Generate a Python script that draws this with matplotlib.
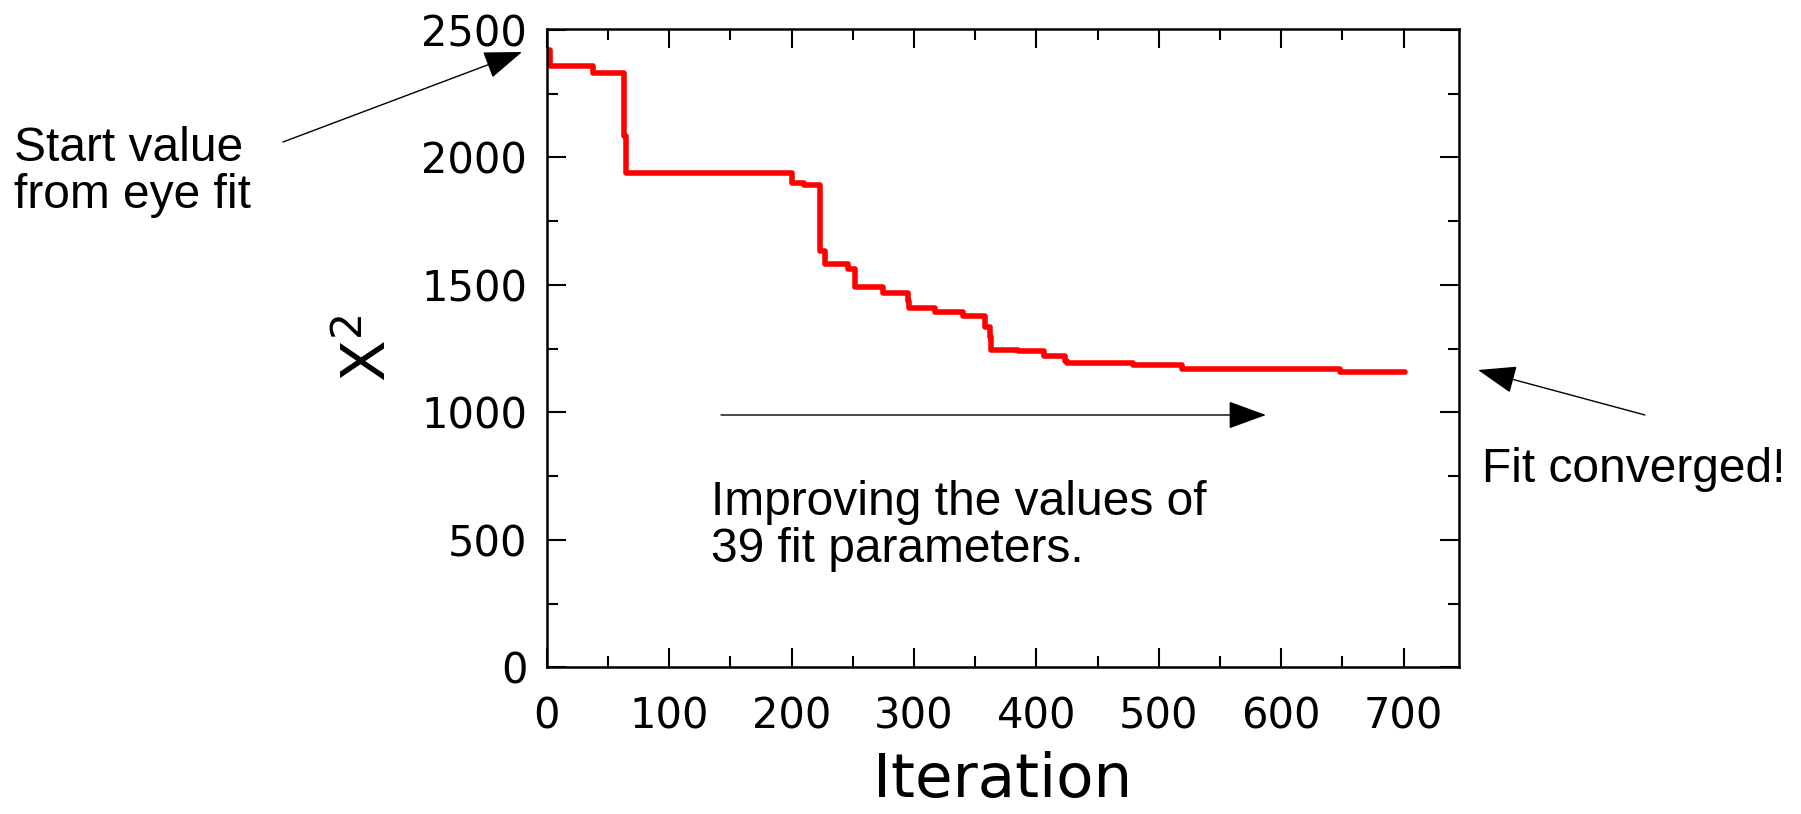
import matplotlib
matplotlib.use('Agg')
import matplotlib.pyplot as plt
from matplotlib.ticker import MultipleLocator

# chi^2 value after each accepted step (steps-post)
iteration = [0, 3, 38, 63, 65, 200, 210, 223, 227, 246, 252, 275, 295, 296, 317,
             340, 358, 362, 363, 385, 406, 423, 425, 479, 519, 648, 701]
chi2 = [2420, 2360, 2330, 2083, 1940, 1898, 1892, 1633, 1581, 1561, 1490, 1470, 1437, 1411, 1394,
        1379, 1333, 1294, 1246, 1242, 1222, 1203, 1192, 1187, 1170, 1157, 1157]

W, H = 1801, 814
tick_font = ['DejaVu Sans']
note_font = ['Liberation Sans', 'DejaVu Sans']
plt.rcParams['mathtext.default'] = 'regular'

fig = plt.figure(figsize=(W / 100, H / 100), dpi=100)
ax = fig.add_axes([546.7 / W, 1 - 667.3 / H, (1458.7 - 546.7) / W, (667.3 - 28.7) / H])

ax.plot(iteration, chi2, drawstyle='steps-post', color='red', lw=4,
        solid_capstyle='round', solid_joinstyle='round')

ax.set_xlim(0, 745)
ax.set_ylim(0, 2505)
ax.xaxis.set_major_locator(MultipleLocator(100))
ax.xaxis.set_minor_locator(MultipleLocator(50))
ax.yaxis.set_major_locator(MultipleLocator(500))
ax.yaxis.set_minor_locator(MultipleLocator(250))
ax.tick_params(which='both', direction='in', top=True, right=True, width=1.5)
ax.tick_params(which='major', length=14)
ax.tick_params(which='minor', length=8)
ax.tick_params(axis='x', which='major', pad=20)
ax.tick_params(axis='y', which='major', pad=14)
for sp in ax.spines.values():
    sp.set_linewidth(1.8)
for lab in ax.get_xticklabels() + ax.get_yticklabels():
    lab.set_family(tick_font)
    lab.set_fontsize(30)

ax.set_xlabel('Iteration', fontsize=44, family=tick_font, labelpad=10)
ax.set_ylabel('X$^2$', fontsize=44, family=tick_font, labelpad=16)

def fpos(px, py):
    return (px / W, 1 - py / H)

arrow = dict(arrowstyle='-|>,head_length=1.1,head_width=0.4', color='black', lw=1,
             mutation_scale=22, shrinkA=0, shrinkB=0)

ax.annotate('', xy=fpos(522, 52), xytext=fpos(283, 142), xycoords='figure fraction',
            textcoords='figure fraction', arrowprops=arrow)
ax.annotate('', xy=fpos(1266, 415), xytext=fpos(721, 415), xycoords='figure fraction',
            textcoords='figure fraction', arrowprops=arrow)
ax.annotate('', xy=fpos(1478, 370), xytext=fpos(1645, 415), xycoords='figure fraction',
            textcoords='figure fraction', arrowprops=arrow)

fig.text(*fpos(14, 172), 'Start value\nfrom eye fit', fontsize=34.5, family=note_font,
         va='center', ha='left', linespacing=1.05)
fig.text(*fpos(711, 526), 'Improving the values of\n39 fit parameters.', fontsize=34.5,
         family=note_font, va='center', ha='left', linespacing=1.05)
fig.text(*fpos(1482, 469), 'Fit converged!', fontsize=34.5, family=note_font,
         va='center', ha='left')

fig.savefig('out.png', dpi=100)
